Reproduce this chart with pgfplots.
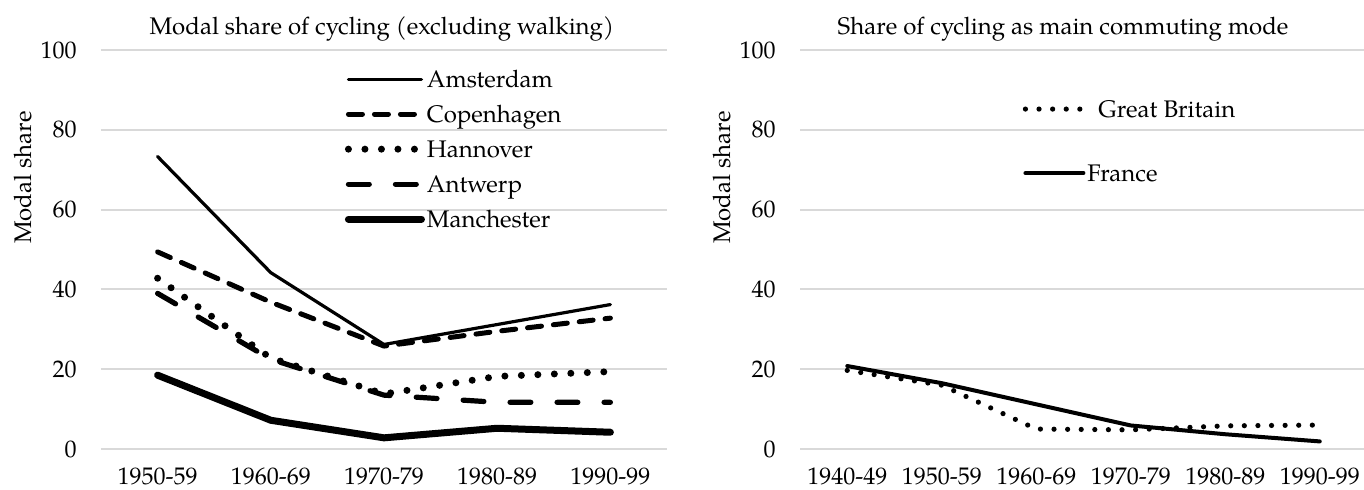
\documentclass[border=0pt]{standalone}
\usepackage{fontspec}
\setmainfont{TeX Gyre Pagella}
\usepackage{pgfplots}
\pgfplotsset{compat=1.18}
\definecolor{gridgray}{HTML}{D9D9D9}
\pgfplotsset{
  mystyle/.style={
    scale only axis, height=199.5pt, ymin=0, ymax=100, ytick={0,20,...,100},
    ymajorgrids, major grid style={gridgray, line width=1pt},
    axis line style={draw=none}, major tick length=0pt,
    /pgf/number format/assume math mode=true,
    yticklabel style={inner sep=0pt, xshift=-12pt},
    xticklabel style={inner sep=0pt, yshift=-9pt},
    every axis y label/.style={at={(axis description cs:-0.138,0.68)}, rotate=90, anchor=center, inner sep=0pt},
    ylabel={Modal share},
    every axis title/.style={anchor=base, inner sep=0pt},
    legend cell align=left,
    legend style={draw=none, fill=none, inner sep=0pt, outer sep=0pt,
      nodes={inner sep=0pt, text height=10pt, text depth=2pt}},
    clip=false,
  },
  amst/.style={black, line width=1.6pt, line join=round, line cap=round, mark=none},
  cope/.style={black, line width=2.5pt, line join=round, line cap=round, dash pattern=on 7pt off 6pt, mark=none},
  hann/.style={black, line width=3.5pt, line join=round, line cap=round, dash pattern=on 0pt off 8.25pt, mark=none},
  antw/.style={black, line width=2.6pt, line join=round, line cap=round, dash pattern=on 10.4pt off 13.1pt, mark=none},
  manc/.style={black, line width=3.5pt, line join=round, line cap=round, mark=none},
  gb/.style={black, line width=2.6pt, line join=round, line cap=round, dash pattern=on 0pt off 6.8pt, mark=none,
    legend image code/.code={\draw[##1] (0pt,0pt) -- (27.3pt,0pt);}},
  fr/.style={black, line width=2pt, line join=round, line cap=round, mark=none},
}
\begin{document}
\fontsize{12}{14.4}\selectfont
\begin{tikzpicture}
\path[use as bounding box] (0,0) rectangle (682pt,244.5pt);
\begin{axis}[mystyle, at={(50.5pt,20pt)}, anchor=south west, width=283pt,
  xmin=-0.5, xmax=4.5, xtick={0,1,2,3,4},
  xticklabels={1950-59,1960-69,1970-79,1980-89,1990-99},
  title={Modal share of cycling (excluding walking)},
  title style={at={(axis description cs:0.496,1.040)}},
  legend style={at={(axis description cs:0.431,0.957)}, anchor=north west, row sep=5.5pt, column sep=1pt},
  legend image code/.code={\draw[#1] (0pt,0pt) -- (36.5pt,0pt);},
]
\addplot[amst] coordinates {(0,73.3) (1,44.2) (2,26.2) (3,31.2) (4,36.2)};
\addlegendentry{Amsterdam}
\addplot[cope] coordinates {(0,49.4) (1,36.8) (2,25.8) (3,29.5) (4,32.8)};
\addlegendentry{Copenhagen}
\addplot[hann] coordinates {(0,42.8) (1,22.8) (2,13.8) (3,18.2) (4,19.4)};
\addlegendentry{Hannover}
\addplot[antw] coordinates {(0,39.0) (1,22.5) (2,13.5) (3,11.7) (4,11.7)};
\addlegendentry{Antwerp}
\addplot[manc] coordinates {(0,18.5) (1,7.2) (2,2.8) (3,5.2) (4,4.2)};
\addlegendentry{Manchester}
\end{axis}
\begin{axis}[mystyle, at={(400pt,20pt)}, anchor=south west, width=283.5pt,
  xmin=-0.5, xmax=5.5, xtick={0,1,2,3,4,5},
  xticklabels={1940-49,1950-59,1960-69,1970-79,1980-89,1990-99},
  title={Share of cycling as main commuting mode},
  title style={at={(axis description cs:0.464,1.040)}},
  legend style={at={(axis description cs:0.393,0.882)}, anchor=north west, row sep=20pt, column sep=1pt},
  legend image code/.code={\draw[#1] (0pt,0pt) -- (29pt,0pt);},
]
\addplot[gb] coordinates {(0,19.7) (1,16.0) (2,5.0) (3,4.8) (4,5.8) (5,6.0)};
\addlegendentry{\hspace{5.5pt}Great Britain}
\addplot[fr] coordinates {(0,20.8) (1,16.5) (2,11.2) (3,5.9) (4,3.7) (5,1.9)};
\addlegendentry{France}
\end{axis}
\end{tikzpicture}
\end{document}
